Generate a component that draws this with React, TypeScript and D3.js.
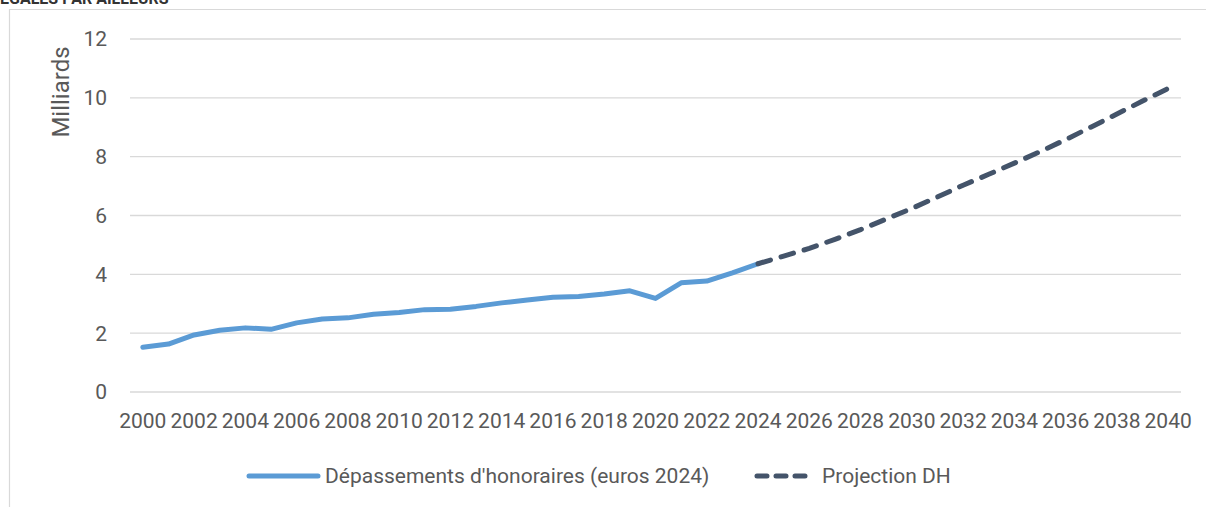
import React from "react";
import * as d3 from "d3";

// historical series (billions, euros 2024)
const histYears = [2000, 2001, 2002, 2003, 2004, 2005, 2006, 2007, 2008, 2009, 2010, 2011, 2012,
  2013, 2014, 2015, 2016, 2017, 2018, 2019, 2020, 2021, 2022, 2023, 2024];
const histValues = [1.52, 1.63, 1.94, 2.1, 2.18, 2.13, 2.35, 2.48, 2.52, 2.64, 2.7, 2.8, 2.81,
  2.91, 3.03, 3.13, 3.22, 3.25, 3.33, 3.44, 3.18, 3.71, 3.77, 4.05, 4.36];

// projection
const projYears = [2024, 2025, 2026, 2027, 2028, 2029, 2030, 2031, 2032, 2033, 2034, 2035, 2036,
  2037, 2038, 2039, 2040];
const projValues = [4.36, 4.62, 4.88, 5.19, 5.52, 5.88, 6.24, 6.63, 7.03, 7.4, 7.78, 8.17, 8.58,
  9.01, 9.45, 9.89, 10.32];

const yTicks = [0, 2, 4, 6, 8, 10, 12];
const seriesNames = ["Dépassements d'honoraires (euros 2024)", "Projection DH"];

const W = 1206;
const H = 507;
const FONT = "Roboto, sans-serif";
const TXT = "#595959";

export default function App() {
  const allYears = d3.range(2000, 2041);
  const x = d3.scaleBand<number>().domain(allYears).range([130, 1181]).padding(0);
  const cx = (yr: number) => (x(yr) as number) + x.bandwidth() / 2;
  const y = d3.scaleLinear().domain([0, 12]).range([392, 39]);

  const line = d3.line<[number, number]>()
    .x((d) => cx(d[0]))
    .y((d) => y(d[1]));

  const hist = histYears.map((yr, i) => [yr, histValues[i]] as [number, number]);
  const proj = projYears.map((yr, i) => [yr, projValues[i]] as [number, number]);

  const labelYears = allYears.filter((yr) => yr % 2 === 0);

  return (
    <svg
      width={W}
      height={H}
      style={{ position: "absolute", left: 0, top: 0, background: "#fff" }}
      fontFamily={FONT}
    >
      {/* clipped heading from the page above */}
      <text x={0} y={4} fontSize={16} fontWeight="bold" fill="#333">
        ÉGALES PAR AILLEURS
      </text>
      {/* chart frame */}
      <path d={`M9.5,${H} V9.5 H${W}`} fill="none" stroke="#d9d9d9" strokeWidth={1.2} />

      {yTicks.map((t) => (
        <g key={t}>
          <line x1={130} x2={1181} y1={y(t)} y2={y(t)} stroke="#d9d9d9" strokeWidth={1.3} />
          <text x={107} y={y(t)} dy="0.35em" textAnchor="end" fontSize={21} fill={TXT}>
            {t}
          </text>
        </g>
      ))}

      <text
        transform="translate(69,92) rotate(-90)"
        textAnchor="middle"
        fontSize={24}
        fill={TXT}
      >
        Milliards
      </text>

      {labelYears.map((yr) => (
        <text key={yr} x={cx(yr)} y={421} dy="0.35em" textAnchor="middle" fontSize={21} fill={TXT}>
          {yr}
        </text>
      ))}

      <path d={line(hist) as string} fill="none" stroke="#5b9bd5" strokeWidth={5}
        strokeLinejoin="round" strokeLinecap="round" />
      <path d={line(proj) as string} fill="none" stroke="#44546a" strokeWidth={5}
        strokeDasharray="13 11" strokeLinecap="round" strokeLinejoin="round" />

      {/* legend */}
      <line x1={249} x2={318} y1={476} y2={476} stroke="#5b9bd5" strokeWidth={5} strokeLinecap="round" />
      <text x={325} y={476} dy="0.35em" fontSize={21} fill={TXT}>{seriesNames[0]}</text>
      <line x1={757} x2={810} y1={476} y2={476} stroke="#44546a" strokeWidth={5}
        strokeDasharray="10 9" strokeLinecap="round" />
      <text x={822} y={476} dy="0.35em" fontSize={21} fill={TXT}>{seriesNames[1]}</text>
    </svg>
  );
}
